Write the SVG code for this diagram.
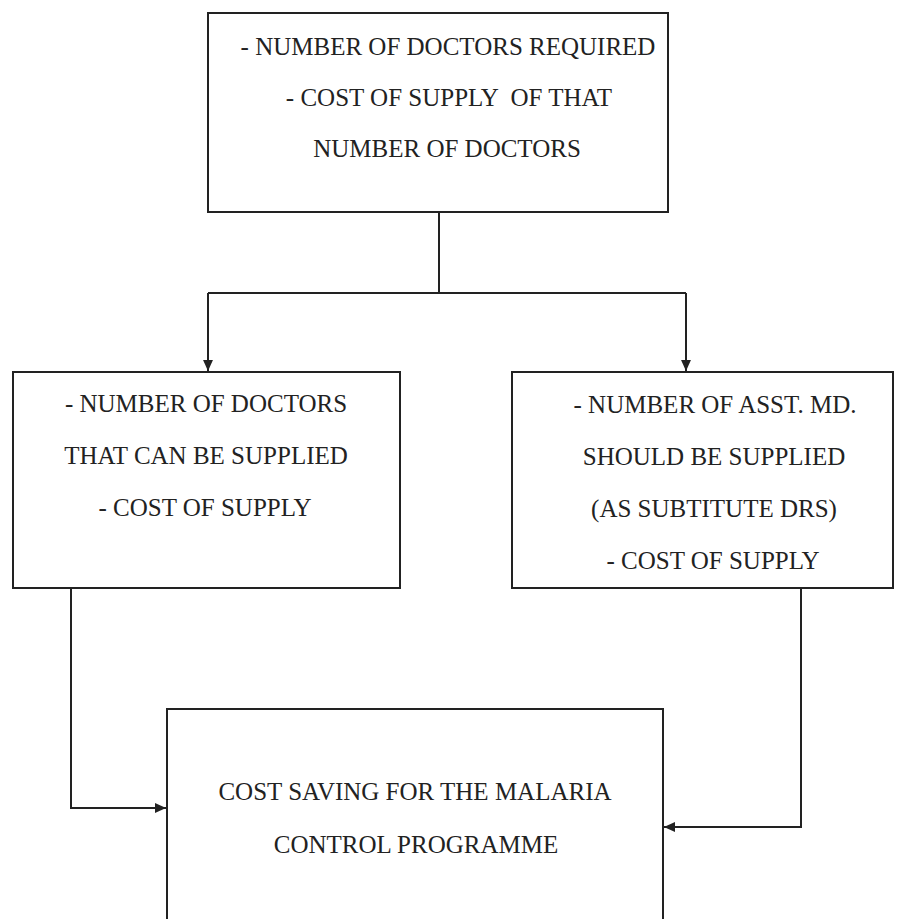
<svg xmlns="http://www.w3.org/2000/svg" width="906" height="919" viewBox="0 0 906 919">
<defs>
<marker id="ah" viewBox="0 0 10 10" refX="10" refY="5" markerWidth="11" markerHeight="11" markerUnits="userSpaceOnUse" orient="auto">
<path d="M0,0.5 L10,5 L0,9.5 Z" fill="#222"/>
</marker>
<style>
.box{fill:#fff;stroke:#222;stroke-width:2}
.t{font-family:"Liberation Serif","Times New Roman",serif;font-size:25px;fill:#222;text-anchor:middle}
.c{fill:none;stroke:#222;stroke-width:2}
</style>
</defs>
<rect width="906" height="919" fill="#fff"/>
<g id="top">
<rect class="box" x="208" y="13" width="460" height="199"/>
<text class="t" x="448" y="55">- NUMBER OF DOCTORS REQUIRED</text>
<text class="t" x="449" y="106" xml:space="preserve">- COST OF SUPPLY  OF THAT</text>
<text class="t" x="447" y="157">NUMBER OF DOCTORS</text>
</g>
<g id="left">
<rect class="box" x="13" y="372" width="387" height="216"/>
<text class="t" x="206" y="412">- NUMBER OF DOCTORS</text>
<text class="t" x="206" y="464">THAT CAN BE SUPPLIED</text>
<text class="t" x="205" y="516">- COST OF SUPPLY</text>
</g>
<g id="right">
<rect class="box" x="512" y="372" width="381" height="216"/>
<text class="t" x="715" y="413">- NUMBER OF ASST. MD.</text>
<text class="t" x="714" y="465">SHOULD BE SUPPLIED</text>
<text class="t" x="714" y="517">(AS SUBTITUTE DRS)</text>
<text class="t" x="713" y="569">- COST OF SUPPLY</text>
</g>
<g id="bottom">
<rect class="box" x="167" y="709" width="496" height="230"/>
<text class="t" x="415" y="800">COST SAVING FOR THE MALARIA</text>
<text class="t" x="416" y="853">CONTROL PROGRAMME</text>
</g>
<g id="connectors">
<path class="c" d="M439,212 V293"/>
<path class="c" d="M208,293 H686"/>
<path class="c" d="M208,293 V371" marker-end="url(#ah)"/>
<path class="c" d="M686,293 V371" marker-end="url(#ah)"/>
<path class="c" d="M71,588 V808 H166" marker-end="url(#ah)"/>
<path class="c" d="M801,588 V827 H664" marker-end="url(#ah)"/>
</g>
</svg>
